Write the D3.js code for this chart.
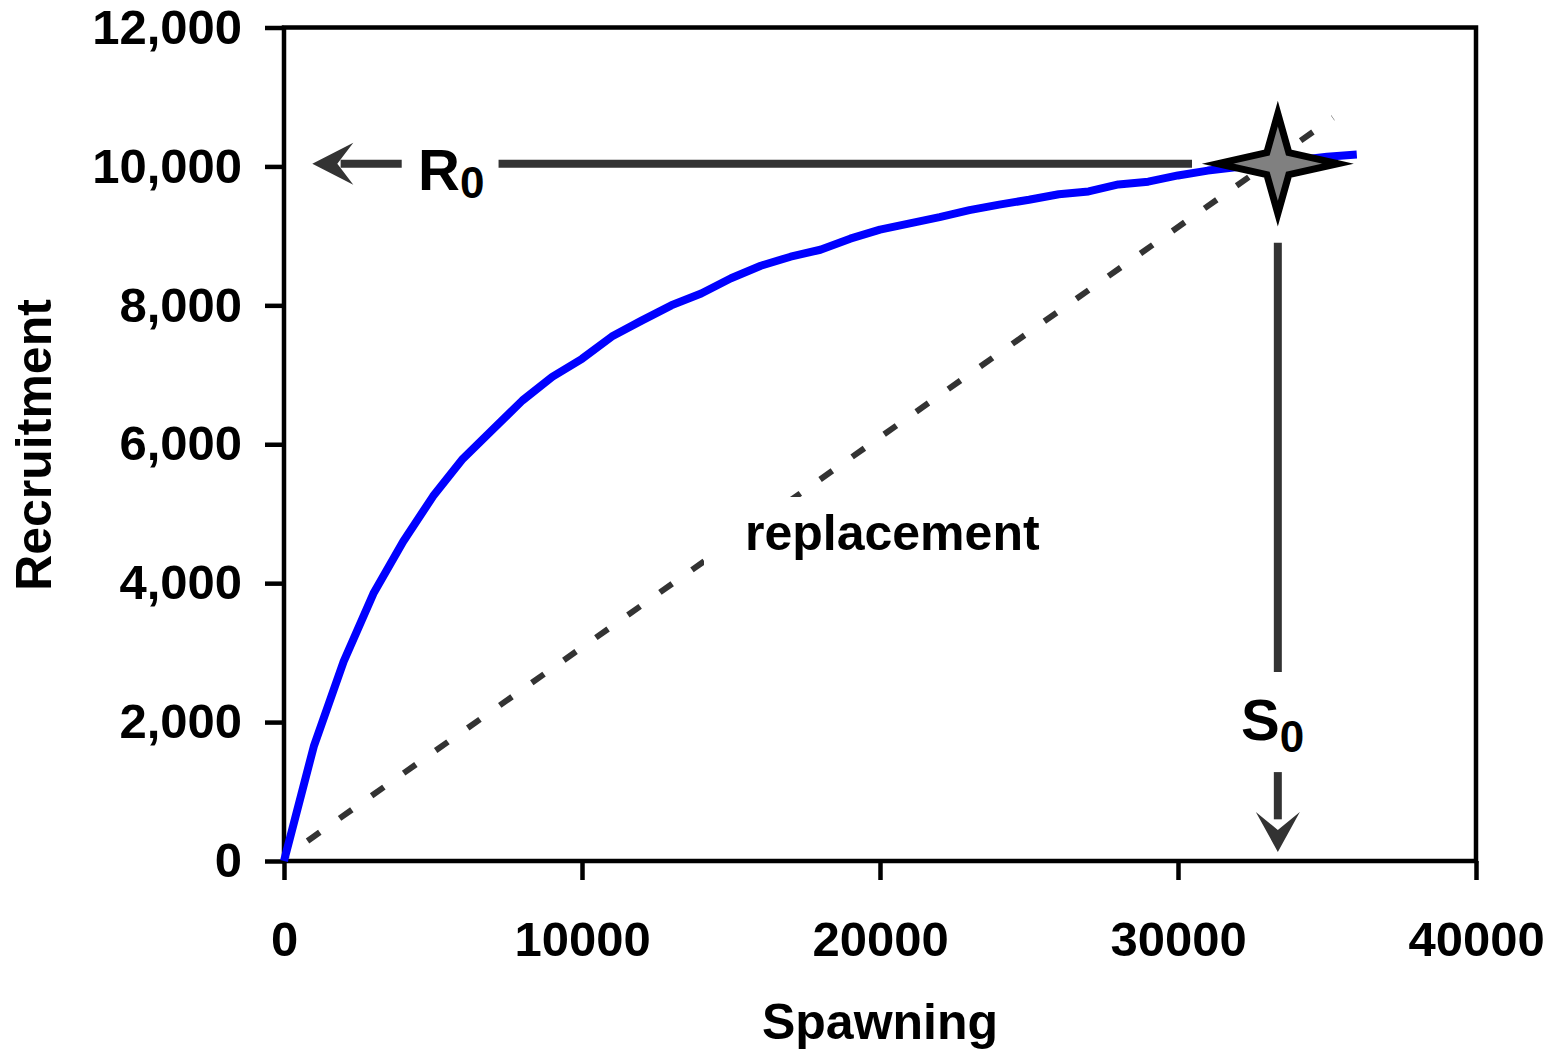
<!DOCTYPE html>
<html>
<head>
<meta charset="utf-8">
<script src="https://cdn.jsdelivr.net/npm/d3@7"></script>
<style>
  html, body { margin: 0; padding: 0; background: #fff; }
  svg { display: block; }
  text { font-family: "Liberation Sans", Arial, Helvetica, sans-serif; font-weight: bold; fill: #000; }
</style>
</head>
<body>
<svg id="chart" width="1559" height="1051"></svg>
<script>
// ---- data ----
const spawning = [0,1000,2000,3000,4000,5000,6000,7000,8000,9000,10000,11000,12000,13000,14000,15000,16000,17000,18000,19000,20000,21000,22000,23000,24000,25000,26000,27000,28000,29000,30000,31000,32000,33000,34000,35000,36000];
const recruitment = [0,1650,2870,3850,4600,5250,5790,6210,6630,6970,7230,7550,7780,8000,8170,8390,8570,8700,8800,8960,9090,9180,9270,9370,9450,9520,9600,9640,9740,9780,9870,9940,9990,10040,10090,10140,10170];
const replacementS = [0, 35200];
const replacementR = [50, 10700];
const xTicks = [0, 10000, 20000, 30000, 40000];
const yTicks = [0, 2000, 4000, 6000, 8000, 10000, 12000];
const S0 = 33350;
const R0 = 10040;

// ---- layout ----
const svg = d3.select("#chart");
const x = d3.scaleLinear().domain([0, 40000]).range([284, 1476]);
const y = d3.scaleLinear().domain([0, 12000]).range([861, 27.5]);
const FS = 49;

// frame
svg.append("rect")
  .attr("x", x(0)).attr("y", y(12000))
  .attr("width", x(40000) - x(0)).attr("height", y(0) - y(12000))
  .attr("fill", "none").attr("stroke", "#000").attr("stroke-width", 4.5);

// axes
const yAxis = svg.append("g").attr("transform", `translate(${x(0)},0)`)
  .call(d3.axisLeft(y).tickValues(yTicks).tickSize(19).tickPadding(23).tickFormat(d3.format(",")));
const xAxis = svg.append("g").attr("transform", `translate(0,${y(0)})`)
  .call(d3.axisBottom(x).tickValues(xTicks).tickSize(19).tickPadding(41).tickFormat(d => String(d)));
[yAxis, xAxis].forEach(g => {
  g.attr("font-family", null);
  g.select(".domain").remove();
  g.selectAll(".tick line").attr("stroke", "#000").attr("stroke-width", 4.5);
  g.selectAll(".tick text").attr("font-size", FS).attr("fill", "#000");
});

// axis titles
svg.append("text").attr("x", 880).attr("y", 1039).attr("text-anchor", "middle")
  .attr("font-size", 50).text("Spawning");
svg.append("text").attr("transform", "translate(51,445) rotate(-90)").attr("text-anchor", "middle")
  .attr("font-size", 50).text("Recruitment");

// replacement line (dashed)
const repl = replacementS.map((s, i) => [s, replacementR[i]]);
svg.append("path").datum(repl)
  .attr("d", d3.line().x(d => x(d[0])).y(d => y(d[1])))
  .attr("fill", "none").attr("stroke", "#333").attr("stroke-width", 6)
  .attr("stroke-dasharray", "15 24.2").attr("stroke-dashoffset", 10.4);

// label box over the dashed line
svg.append("rect").attr("x", 704).attr("y", 497).attr("width", 346).attr("height", 78).attr("fill", "#fff");
svg.append("text").attr("x", 745).attr("y", 550).attr("font-size", 50).text("replacement");

// stock-recruitment curve
const curve = spawning.map((s, i) => [s, recruitment[i]]);
svg.append("path").datum(curve)
  .attr("d", d3.line().x(d => x(d[0])).y(d => y(d[1])))
  .attr("fill", "none").attr("stroke", "#0000ff").attr("stroke-width", 8)
  .attr("stroke-linejoin", "round");

// annotations
const annot = "#333";
// R0 horizontal line
svg.append("line").attr("x1", x(7200)).attr("x2", x(30470)).attr("y1", y(R0)).attr("y2", y(R0))
  .attr("stroke", annot).attr("stroke-width", 8);
// R0 left arrow
const ay = y(R0);
svg.append("line").attr("x1", x(3950)).attr("x2", x(1900)).attr("y1", ay).attr("y2", ay)
  .attr("stroke", annot).attr("stroke-width", 8);
const tipL = x(950);
svg.append("path")
  .attr("d", `M${tipL},${ay} L${tipL + 41},${ay - 21} L${tipL + 25},${ay} L${tipL + 41},${ay + 21} Z`)
  .attr("fill", annot);
// R0 label
const r0 = svg.append("text").attr("x", x(4500)).attr("y", 190).attr("font-size", 58);
r0.append("tspan").text("R");
r0.append("tspan").attr("font-size", 44).attr("dy", 8).text("0");

// S0 vertical line
const sx = x(S0);
svg.append("line").attr("x1", sx).attr("x2", sx).attr("y1", y(8900)).attr("y2", y(2720))
  .attr("stroke", annot).attr("stroke-width", 8);
// S0 label
const s0 = svg.append("text").attr("x", 1241).attr("y", 740).attr("font-size", 58);
s0.append("tspan").text("S");
s0.append("tspan").attr("font-size", 44).attr("dy", 12).text("0");
// S0 down arrow
svg.append("line").attr("x1", sx).attr("x2", sx).attr("y1", y(1280)).attr("y2", y(600))
  .attr("stroke", annot).attr("stroke-width", 8);
const tipD = y(130);
svg.append("path")
  .attr("d", `M${sx},${tipD} L${sx - 22},${tipD - 40} L${sx},${tipD - 22} L${sx + 22},${tipD - 40} Z`)
  .attr("fill", annot);

// star at (S0, R0)
const cx = x(S0), cy = y(R0);
const rx = 60, ry = 50, ri = 11;
const starPts = [
  [cx + rx, cy], [cx + ri, cy - ri], [cx, cy - ry], [cx - ri, cy - ri],
  [cx - rx, cy], [cx - ri, cy + ri], [cx, cy + ry], [cx + ri, cy + ri]
];
svg.append("path").attr("d", "M" + starPts.map(p => p.join(",")).join("L") + "Z")
  .attr("fill", "#808080").attr("stroke", "#000").attr("stroke-width", 7)
  .attr("stroke-linejoin", "miter").attr("stroke-miterlimit", 12);
</script>
</body>
</html>
